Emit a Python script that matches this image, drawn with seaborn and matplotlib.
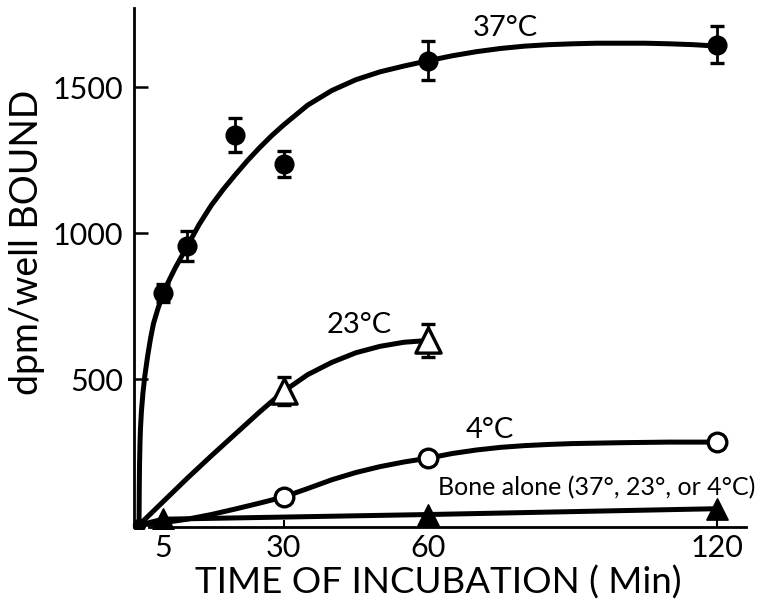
import matplotlib
matplotlib.use("Agg")
import matplotlib.pyplot as plt
import seaborn as sns

# =====================================================
# DATA
# =====================================================

# measured points
t37 = [5, 10, 20, 30, 60, 120]
v37 = [795, 955, 1335, 1236, 1590, 1645]
err37 = [30, 52, 58, 45, 67, 63]

t23 = [30, 60]
v23 = [460, 632]
err23 = [48, 57]

t4 = [30, 60, 120]
v4 = [96, 228, 284]

t_bone = [5, 60, 120]
v_bone = [20, 36, 56]

origin_t = [0]
origin_v = [0]

# hand drawn fitted curves
curve37_t = [0, 0.05, 0.1, 0.2, 0.3, 0.5, 0.8, 1.2, 1.8, 2.4, 3, 4, 5, 6,
             7.5, 10, 12.5, 15, 17.5, 20, 22.5, 25, 27.5, 30, 35, 40, 45,
             50, 55, 60, 65, 70, 75, 80, 85, 90, 95, 100, 105, 110, 115, 120]
curve37_v = [0, 120, 200, 280, 330, 390, 450, 510, 580, 640, 690, 745, 790,
             830, 880, 955, 1030, 1095, 1150, 1200, 1248, 1292, 1333, 1370,
             1438, 1488, 1525, 1552, 1572, 1590, 1607, 1621, 1632, 1640,
             1645, 1648, 1650, 1650, 1650, 1648, 1645, 1640]

curve23_t = [0, 5, 10, 15, 20, 25, 30, 35, 40, 45, 50, 55, 60]
curve23_v = [0, 80, 160, 237, 312, 387, 458, 515, 557, 590, 612, 626, 632]

curve4_t = [0, 5, 10, 15, 20, 25, 30, 35, 40, 45, 50, 55, 60, 65, 70, 75,
            80, 85, 90, 100, 110, 120]
curve4_v = [0, 8, 20, 36, 55, 75, 96, 125, 155, 180, 200, 216, 229, 245,
            257, 266, 272, 276, 279, 282, 284, 284]

bone_line_t = [0, 5, 60, 120]
bone_line_v = [0, 20, 36, 56]

x_ticks = [5, 30, 60, 120]
y_ticks = [500, 1000, 1500]

# =====================================================
# STYLE
# =====================================================

sns.set_theme(style="ticks")
plt.rcParams["font.family"] = ["Lato", "DejaVu Sans"]
plt.rcParams["text.color"] = "black"
plt.rcParams["axes.labelcolor"] = "black"

LW = 3.6

fig = plt.figure(figsize=(7.84, 6.10), dpi=100)
ax = fig.add_axes([0.1681, 0.1321, 0.790, 0.8569])

# =====================================================
# CURVES
# =====================================================

curves = [
    (curve37_t, curve37_v),
    (curve23_t, curve23_v),
    (curve4_t, curve4_v),
    (bone_line_t, bone_line_v),
]

for ct, cv in curves:
    sns.lineplot(
        x=ct, y=cv, ax=ax, color="black", linewidth=LW,
        sort=False, estimator=None,
        solid_joinstyle="round", solid_capstyle="round", zorder=2
    )

# error bars
ax.errorbar(t37, v37, yerr=err37, fmt="none", ecolor="black",
            elinewidth=2.0, capsize=5, capthick=2.4, zorder=3)
ax.errorbar(t23, v23, yerr=err23, fmt="none", ecolor="black",
            elinewidth=2.0, capsize=5, capthick=2.4, zorder=3)

# markers
sns.scatterplot(x=t37, y=v37, ax=ax, marker="o", s=180,
                color="black", edgecolor="black", zorder=4)
sns.scatterplot(x=t23, y=v23, ax=ax, marker="^", s=330,
                color="white", edgecolor="black", linewidth=2.4, zorder=4)
sns.scatterplot(x=t4, y=v4, ax=ax, marker="o", s=180,
                color="white", edgecolor="black", linewidth=2.4, zorder=4)
sns.scatterplot(x=t_bone, y=v_bone, ax=ax, marker="^", s=230,
                color="black", edgecolor="black", zorder=4)
sns.scatterplot(x=origin_t, y=origin_v, ax=ax, marker="o", s=80,
                color="black", edgecolor="black", zorder=4)

# =====================================================
# LABELS
# =====================================================

ax.text(76, 1702, "37°C", fontsize=21, ha="center", va="center")
ax.text(45.6, 685, "23°C", fontsize=21, ha="center", va="center")
ax.text(72.8, 325, "4°C", fontsize=21, ha="center", va="center")
ax.text(62, 127, "Bone alone (37°, 23°, or 4°C)", fontsize=18,
        ha="left", va="center")

ax.set_xlim(-1.5, 127)
ax.set_ylim(-15, 1775)

ax.set_xticks(x_ticks)
ax.set_xticklabels([str(v) for v in x_ticks])
ax.set_yticks(y_ticks)
ax.set_yticklabels([str(v) for v in y_ticks])

ax.tick_params(axis="x", direction="in", length=5, width=1.5,
               labelsize=22, pad=5, colors="black")
ax.tick_params(axis="y", direction="in", length=10, width=1.8,
               labelsize=22, pad=8, colors="black")

ax.set_xlabel("TIME OF INCUBATION ( Min)", fontsize=26.5, va="center")
ax.xaxis.set_label_coords(0.495, -0.102)
ax.set_ylabel("dpm/well BOUND", fontsize=27, va="center", ha="center")
ax.yaxis.set_label_coords(-0.169, 0.55)

sns.despine(ax=ax)
ax.spines["bottom"].set_position(("data", -8))
ax.spines["bottom"].set_bounds(2, 126)
ax.spines["left"].set_position(("data", -1))
ax.spines["left"].set_bounds(-8, 1770)
for side in ["bottom", "left"]:
    ax.spines[side].set_linewidth(2.0)
    ax.spines[side].set_color("black")

ax.patch.set_alpha(0)

fig.savefig("out.png", dpi=100)
plt.close()
